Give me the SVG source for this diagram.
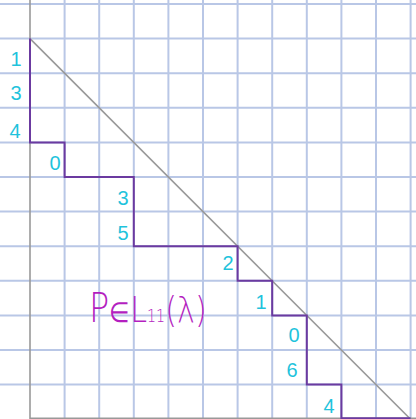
<svg xmlns="http://www.w3.org/2000/svg" width="416" height="419" viewBox="0 0 416 419">
<style>
.grid line{stroke:#b9c7e6;stroke-width:2}
.axis{stroke:#999;stroke-width:1.6;fill:none}
.path{stroke:#6b3aa0;stroke-width:2;fill:none}
.d{font-family:"Liberation Sans",sans-serif;font-size:20px;fill:#1fc3dc;text-anchor:middle}
.m{font-family:"DejaVu Sans",sans-serif;fill:#b41fc0;font-weight:200}
</style>
<rect width="416" height="419" fill="#fff"/>
<g class="grid" id="grid">
<line x1="64.6" y1="0" x2="64.6" y2="419"/>
<line x1="99.2" y1="0" x2="99.2" y2="419"/>
<line x1="133.8" y1="0" x2="133.8" y2="419"/>
<line x1="168.4" y1="0" x2="168.4" y2="419"/>
<line x1="203" y1="0" x2="203" y2="419"/>
<line x1="237.6" y1="0" x2="237.6" y2="419"/>
<line x1="272.2" y1="0" x2="272.2" y2="419"/>
<line x1="306.8" y1="0" x2="306.8" y2="419"/>
<line x1="341.4" y1="0" x2="341.4" y2="419"/>
<line x1="376" y1="0" x2="376" y2="419"/>
<line x1="410.6" y1="0" x2="410.6" y2="419"/>
<line x1="0" y1="4" x2="416" y2="4"/>
<line x1="0" y1="38.6" x2="416" y2="38.6"/>
<line x1="0" y1="73.2" x2="416" y2="73.2"/>
<line x1="0" y1="107.8" x2="416" y2="107.8"/>
<line x1="0" y1="142.4" x2="416" y2="142.4"/>
<line x1="0" y1="177" x2="416" y2="177"/>
<line x1="0" y1="211.6" x2="416" y2="211.6"/>
<line x1="0" y1="246.2" x2="416" y2="246.2"/>
<line x1="0" y1="280.8" x2="416" y2="280.8"/>
<line x1="0" y1="315.4" x2="416" y2="315.4"/>
<line x1="0" y1="350" x2="416" y2="350"/>
<line x1="0" y1="384.6" x2="416" y2="384.6"/>
</g>
<g id="axes">
<line class="axis" x1="30" y1="0" x2="30" y2="419"/>
<line class="axis" x1="30" y1="418.3" x2="416" y2="418.3"/>
<line class="axis" x1="30" y1="38.6" x2="410.6" y2="419.2"/>
</g>
<g id="lattice-path">
<path class="path" d="M30,38.6 V142.4 H64.6 V177 H133.8 V246.2 H237.6 V280.8 H272.2 V315.4 H306.8 V384.6 H341.4 V418.3 H410.6"/>
</g>
<g id="labels">
<text class="d" x="16" y="66">1</text>
<text class="d" x="16" y="100">3</text>
<text class="d" x="15" y="138">4</text>
<text class="d" x="55" y="170">0</text>
<text class="d" x="123" y="205">3</text>
<text class="d" x="123" y="240">5</text>
<text class="d" x="228" y="270">2</text>
<text class="d" x="261" y="309">1</text>
<text class="d" x="294" y="342">0</text>
<text class="d" x="292" y="377">6</text>
<text class="d" x="329" y="413">4</text>
</g>
<g id="title">
<text class="m" transform="translate(89,322) scale(0.84,1)"><tspan font-size="40">P</tspan><tspan font-size="28">∈</tspan><tspan font-size="36">L</tspan><tspan font-size="17">11</tspan><tspan font-size="36">(λ)</tspan></text>
</g>
</svg>
